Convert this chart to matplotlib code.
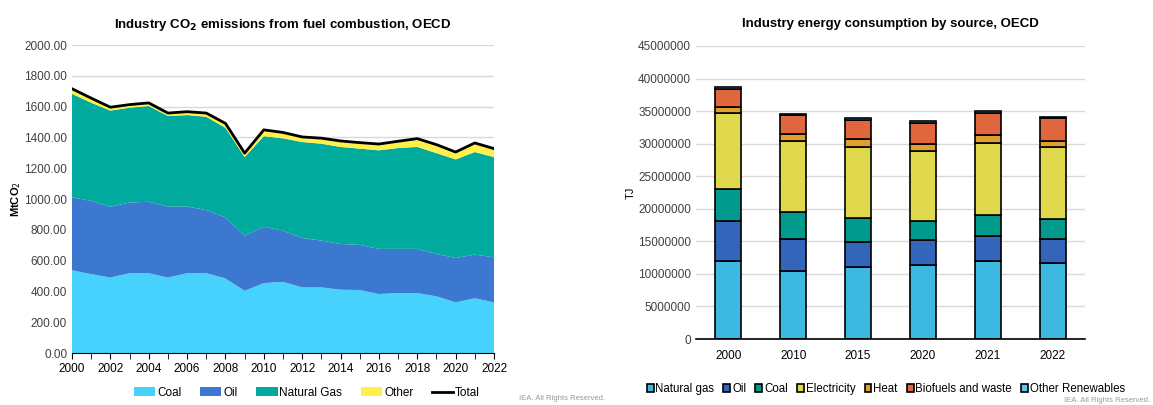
import matplotlib
matplotlib.use("Agg")
import matplotlib.pyplot as plt
import numpy as np

plt.rcParams['font.family'] = ['Liberation Sans', 'DejaVu Sans']

# left chart: industry CO2 emissions, MtCO2
years = list(range(2000, 2023))
coal = [537, 512, 490, 518, 518, 490, 518, 518, 484, 404, 454, 462, 426, 426, 411, 409, 383, 389, 389, 368, 329, 355, 329]
oil = [473, 476, 460, 459, 464, 461, 433, 410, 396, 358, 366, 332, 321, 304, 297, 293, 293, 287, 287, 275, 288, 284, 292]
gas = [673, 637, 624, 616, 622, 588, 594, 606, 582, 510, 588, 600, 623, 629, 630, 625, 640, 655, 662, 655, 640, 666, 651]
other = [33, 30, 22, 20, 20, 19, 22, 24, 29, 26, 41, 38, 33, 36, 39, 39, 41, 44, 54, 55, 48, 59, 55]

# right chart: industry energy consumption, TJ
bar_years = ['2000', '2010', '2015', '2020', '2021', '2022']
natural_gas = [11920000, 10390000, 11050000, 11410000, 11920000, 11670000]
oil_tj = [6250000, 4960000, 3890000, 3740000, 3840000, 3680000]
coal_tj = [4830000, 4100000, 3640000, 3020000, 3330000, 3070000]
electricity = [11690000, 10930000, 10980000, 10730000, 11040000, 11140000]
heat = [910000, 1120000, 1080000, 1070000, 1130000, 880000]
biofuels = [2840000, 2830000, 3030000, 3230000, 3480000, 3430000]
other_ren = [250000, 260000, 250000, 260000, 260000, 260000]

fig = plt.figure(figsize=(11.53, 4.05), dpi=100)

# ---- left chart
ax = fig.add_axes([72/1153, 1-353/405, (494-72)/1153, (353-45)/405])
c_coal, c_oil, c_gas, c_other = '#47D2FD', '#3C78D0', '#00AB9E', '#FFF04A'
ax.stackplot(years, coal, oil, gas, other,
             colors=[c_coal, c_oil, c_gas, c_other],
             labels=['Coal', 'Oil', 'Natural Gas', 'Other'], lw=0)
total = np.array(coal) + np.array(oil) + np.array(gas) + np.array(other)
ax.plot(years, total, color='black', lw=2, label='Total')
ax.set_xlim(2000, 2022)
ax.set_ylim(0, 2000)
ax.set_yticks(range(0, 2001, 200))
ax.set_yticklabels(['%.2f' % v for v in range(0, 2001, 200)])
ax.set_xticks(range(2000, 2023, 2))
ax.set_xticks(years, minor=True)
ax.grid(axis='y', color='#d9d9d9', lw=1)
ax.set_axisbelow(True)
for s in ['top', 'right', 'left']:
    ax.spines[s].set_visible(False)
ax.spines['bottom'].set_color('black')
ax.tick_params(axis='y', length=0, labelsize=8.5, colors='#404040')
ax.tick_params(axis='x', which='both', length=4, direction='out', labelsize=8.5, labelcolor='black')
ax.set_ylabel('MtCO$_2$', fontsize=8, fontweight='bold', labelpad=1)
ax.set_title('Industry CO$_\\mathbf{2}$ emissions from fuel combustion, OECD',
             fontsize=9.5, fontweight='bold', pad=12)
ax.legend(loc='upper center', bbox_to_anchor=(0.557, -0.075), ncol=5, frameon=False,
          fontsize=8.5, handlelength=1.8, handletextpad=0.15, columnspacing=1.6)
fig.text(605/1153, 1-399/405, 'IEA. All Rights Reserved.', fontsize=5.5, color='#999999', ha='right', va='center')

# ---- right chart
ax2 = fig.add_axes([696/1153, 1-339/405, (1085-696)/1153, (339-46)/405])
series = [natural_gas, oil_tj, coal_tj, electricity, heat, biofuels, other_ren]
names = ['Natural gas', 'Oil', 'Coal', 'Electricity', 'Heat', 'Biofuels and waste', 'Other Renewables']
cols = ['#3DB8E0', '#3366BB', '#009B8D', '#E0D94E', '#E0A030', '#E0663E', '#5BC8F0']
x = np.arange(len(bar_years))
bottom = np.zeros(len(bar_years))
for vals, name, col in zip(series, names, cols):
    ax2.bar(x, vals, 0.4, bottom=bottom, color=col, edgecolor='black', lw=1.2, label=name)
    bottom += np.array(vals)
ax2.set_xlim(-0.5, 5.5)
ax2.set_ylim(0, 45000000)
ax2.set_yticks(range(0, 45000001, 5000000))
ax2.set_yticklabels([str(v) for v in range(0, 45000001, 5000000)])
ax2.set_xticks(x)
ax2.set_xticklabels(bar_years)
ax2.grid(axis='y', color='#d9d9d9', lw=1)
ax2.set_axisbelow(True)
for s in ['top', 'right', 'left']:
    ax2.spines[s].set_visible(False)
ax2.spines['bottom'].set_color('black')
ax2.spines['bottom'].set_linewidth(1.2)
ax2.tick_params(axis='y', length=0, labelsize=8.5, colors='#404040')
ax2.tick_params(axis='x', length=0, labelsize=8.5, pad=8)
ax2.set_ylabel('TJ', fontsize=8, labelpad=2)
ax2.set_title('Industry energy consumption by source, OECD', fontsize=9.5, fontweight='bold', pad=14)
ax2.legend(loc='upper center', bbox_to_anchor=(0.488, -0.115), ncol=7, frameon=False,
           fontsize=8.3, handlelength=0.6, handleheight=0.6, handletextpad=0.15, columnspacing=0.8)
fig.text(1150/1153, 1-400/405, 'IEA. All Rights Reserved.', fontsize=5.5, color='#999999', ha='right', va='center')

fig.savefig('out.png', dpi=100)
